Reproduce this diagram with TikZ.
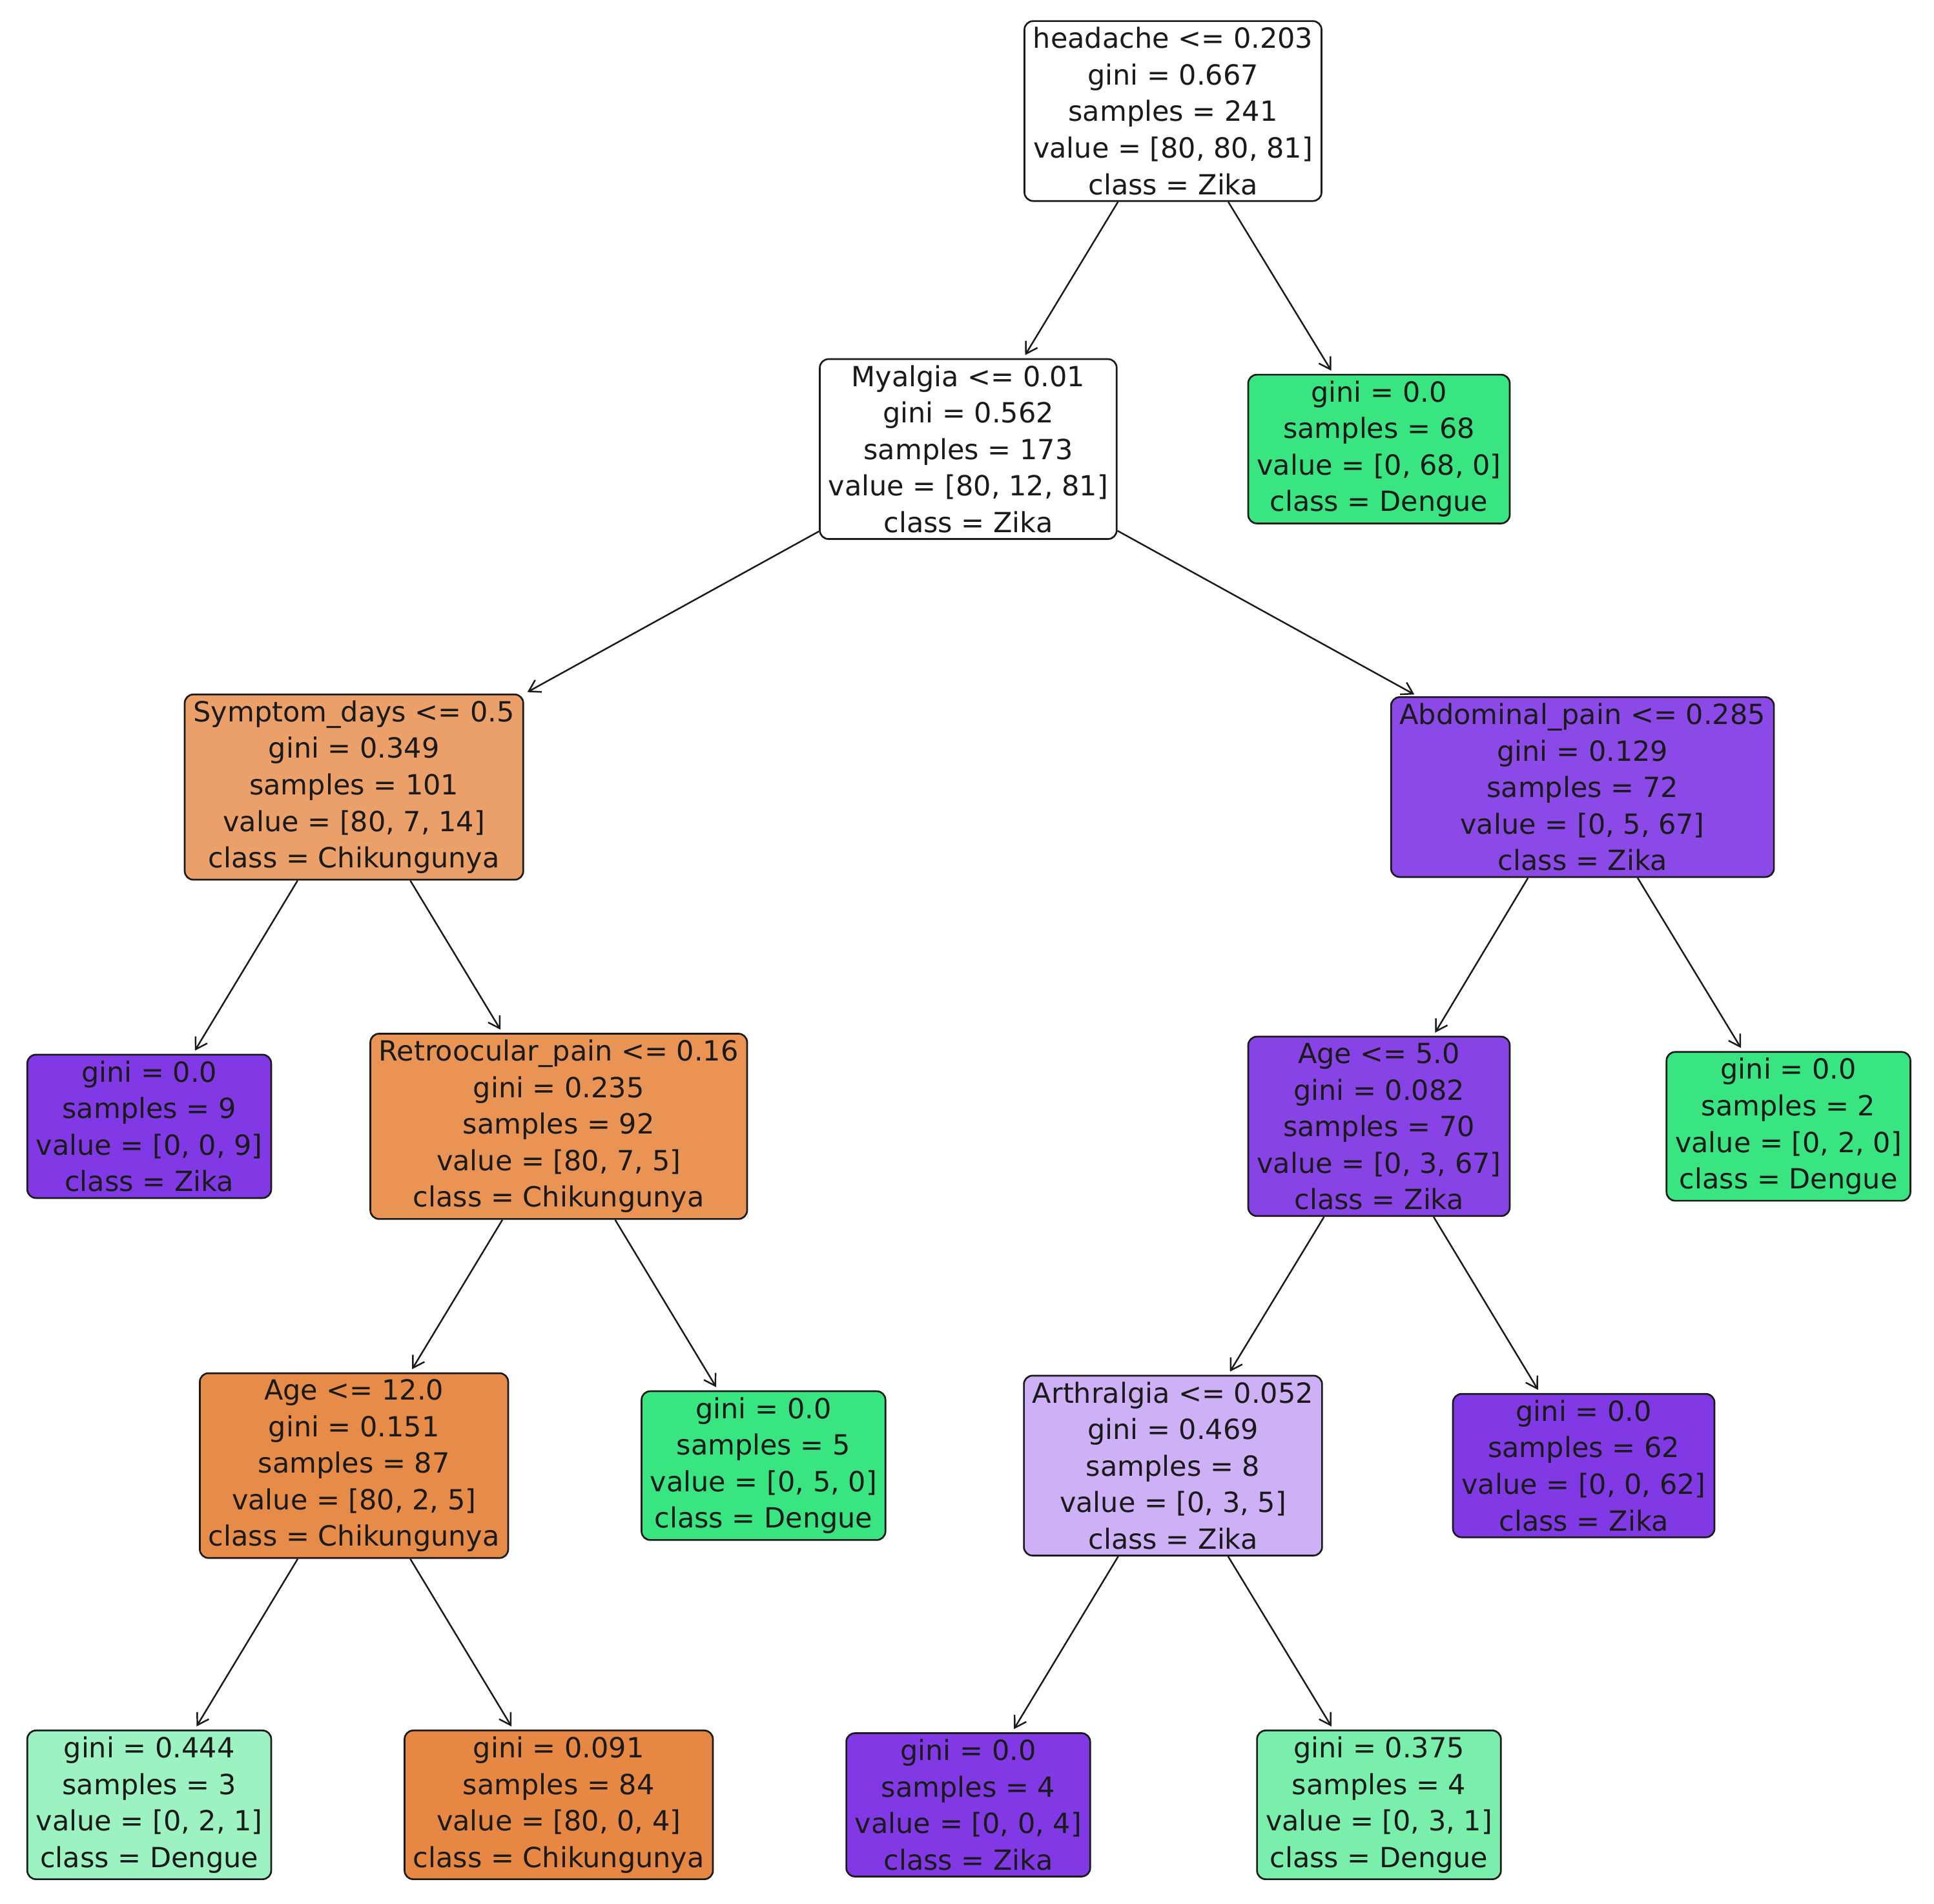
\documentclass[tikz,border=0pt]{standalone}
\usepackage{fontspec}
\setmainfont{DejaVu Sans}
\usetikzlibrary{arrows.meta}
\definecolor{chik}{HTML}{E58139}
\definecolor{deng}{HTML}{39E581}
\definecolor{zika}{HTML}{8139E5}
\definecolor{ink}{HTML}{1A1A1A}
\tikzstyle{box}=[draw=ink, rounded corners=7pt, line width=1.4pt, align=center,
  inner xsep=7pt, inner ysep=5pt, text=ink,
  font=\fontsize{22.5pt}{29.6pt}\selectfont]
\newcommand{\tnode}{\node[box]}

\begin{document}
\begin{tikzpicture}[x=1pt, y=-1pt
    ,every edge/.style={draw=ink, line width=1.3pt, shorten >=3pt,
      -{Straight Barb[length=9pt,width=11pt,line width=1.3pt]}}
]
\useasboundingbox (0,0) rectangle (1568,1543);
\tnode[fill=white] (root) at (951,90) {headache <= 0.203\\gini = 0.667\\samples = 241\\value = [80, 80, 81]\\class = Zika};
\tnode[fill=white] (mya) at (785,364) {Myalgia <= 0.01\\gini = 0.562\\samples = 173\\value = [80, 12, 81]\\class = Zika};
\tnode[fill=deng] (d68) at (1118,364) {gini = 0.0\\samples = 68\\value = [0, 68, 0]\\class = Dengue};
\tnode[fill=chik!76!white] (sym) at (287,638) {Symptom\_days <= 0.5\\gini = 0.349\\samples = 101\\value = [80, 7, 14]\\class = Chikungunya};
\tnode[fill=zika!92!white] (abd) at (1283,638) {Abdominal\_pain <= 0.285\\gini = 0.129\\samples = 72\\value = [0, 5, 67]\\class = Zika};
\tnode[fill=zika] (z9) at (121,913) {gini = 0.0\\samples = 9\\value = [0, 0, 9]\\class = Zika};
\tnode[fill=chik!86!white] (ret) at (453,913) {Retroocular\_pain <= 0.16\\gini = 0.235\\samples = 92\\value = [80, 7, 5]\\class = Chikungunya};
\tnode[fill=zika!95!white] (age5) at (1118,913) {Age <= 5.0\\gini = 0.082\\samples = 70\\value = [0, 3, 67]\\class = Zika};
\tnode[fill=deng] (d2) at (1450,913) {gini = 0.0\\samples = 2\\value = [0, 2, 0]\\class = Dengue};
\tnode[fill=chik!92!white] (age12) at (287,1188) {Age <= 12.0\\gini = 0.151\\samples = 87\\value = [80, 2, 5]\\class = Chikungunya};
\tnode[fill=deng] (d5) at (619,1188) {gini = 0.0\\samples = 5\\value = [0, 5, 0]\\class = Dengue};
\tnode[fill=zika!40!white] (art) at (951,1188) {Arthralgia <= 0.052\\gini = 0.469\\samples = 8\\value = [0, 3, 5]\\class = Zika};
\tnode[fill=zika] (z62) at (1284,1188) {gini = 0.0\\samples = 62\\value = [0, 0, 62]\\class = Zika};
\tnode[fill=deng!50!white] (d3) at (121,1463) {gini = 0.444\\samples = 3\\value = [0, 2, 1]\\class = Dengue};
\tnode[fill=chik!95!white] (c84) at (453,1463) {gini = 0.091\\samples = 84\\value = [80, 0, 4]\\class = Chikungunya};
\tnode[fill=zika] (z4) at (785,1463) {gini = 0.0\\samples = 4\\value = [0, 0, 4]\\class = Zika};
\tnode[fill=deng!67!white] (d4) at (1118,1463) {gini = 0.375\\samples = 4\\value = [0, 3, 1]\\class = Dengue};
\path
(root) edge (mya) edge (d68)
(mya) edge (sym) edge (abd)
(sym) edge (z9) edge (ret)
(abd) edge (age5) edge (d2)
(ret) edge (age12) edge (d5)
(age5) edge (art) edge (z62)
(age12) edge (d3) edge (c84)
(art) edge (z4) edge (d4)
;
\end{tikzpicture}
\end{document}
